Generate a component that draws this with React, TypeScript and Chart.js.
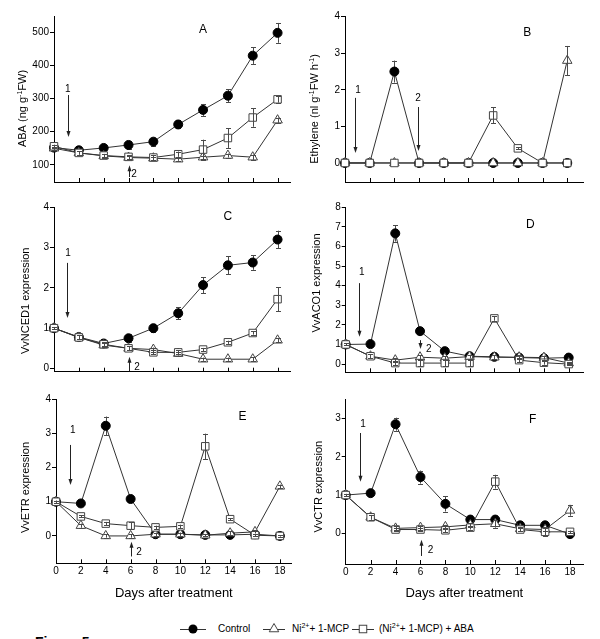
import React, { useEffect, useRef } from 'react';
import { Chart, registerables } from 'chart.js';

Chart.register(...registerables);

const FONT = '"Liberation Sans", Arial, Helvetica, sans-serif';

// ---------------- data ----------------
const days = [0, 2, 4, 6, 8, 10, 12, 14, 16, 18];
const xTickValues = [0, 2, 4, 6, 8, 10, 12, 14, 16, 18];
const seriesNames = ['Control', 'Ni2+ + 1-MCP', '(Ni2+ + 1-MCP) + ABA'];

// A: ABA content
const abaTicks = [100, 200, 300, 400, 500];
const abaControl = [152, 144, 151, 160, 170, 222, 266, 309, 430, 499];
const abaControlErr = [5, 5, 6, 12, 12, 12, 18, 20, 25, 30];
const abaNiMcp = [150, 136, 127, 122, 120, 117, 123, 128, 123, 235];
const abaNiMcpErr = [5, 5, 5, 5, 5, 5, 5, 6, 8, 8];
const abaNiMcpAba = [156, 136, 128, 124, 122, 132, 146, 181, 243, 298];
const abaNiMcpAbaErr = [5, 5, 5, 5, 8, 8, 30, 30, 28, 10];

// B: ethylene
const ethTicks = [0, 1, 2, 3, 4];
const ethControl = [0, 0, 2.5, 0, 0, 0, 0, 0, 0, 0];
const ethControlErr = [0, 0, 0.3, 0, 0, 0, 0, 0, 0, 0];
const ethNiMcp = [0, 0, 0, 0, 0, 0, 0, 0, 0, 2.8];
const ethNiMcpErr = [0, 0, 0, 0, 0, 0, 0, 0, 0, 0.4];
const ethNiMcpAba = [0, 0, 0, 0, 0, 0, 1.3, 0.4, 0, 0];
const ethNiMcpAbaErr = [0, 0, 0, 0, 0, 0, 0.22, 0.03, 0, 0];

// C: VvNCED1
const nced1Ticks = [0, 1, 2, 3, 4];
const nced1Control = [1.0, 0.78, 0.62, 0.75, 1.0, 1.37, 2.07, 2.56, 2.63, 3.2];
const nced1ControlErr = [0.03, 0.05, 0.05, 0.1, 0.1, 0.15, 0.2, 0.22, 0.18, 0.22];
const nced1NiMcp = [1.0, 0.77, 0.58, 0.5, 0.47, 0.37, 0.23, 0.23, 0.23, 0.7];
const nced1NiMcpErr = [0.03, 0.05, 0.05, 0.05, 0.05, 0.05, 0.04, 0.04, 0.05, 0.05];
const nced1NiMcpAba = [1.0, 0.77, 0.6, 0.5, 0.4, 0.4, 0.47, 0.65, 0.88, 1.72];
const nced1NiMcpAbaErr = [0.03, 0.05, 0.05, 0.05, 0.05, 0.05, 0.04, 0.04, 0.04, 0.3];

// D: VvACO1
const aco1Ticks = [0, 1, 2, 3, 4, 5, 6, 7, 8];
const aco1Control = [1.0, 1.02, 6.67, 1.68, 0.66, 0.4, 0.37, 0.33, 0.3, 0.33];
const aco1ControlErr = [0.05, 0.05, 0.42, 0.1, 0.05, 0.05, 0.05, 0.05, 0.05, 0.05];
const aco1NiMcp = [1.0, 0.4, 0.2, 0.35, 0.3, 0.38, 0.35, 0.35, 0.33, 0.05];
const aco1NiMcpErr = [0.05, 0.1, 0.1, 0.1, 0.1, 0.1, 0.1, 0.1, 0.1, 0.05];
const aco1NiMcpAba = [1.0, 0.4, 0.05, 0.05, 0.05, 0.05, 2.33, 0.2, 0.07, 0.0];
const aco1NiMcpAbaErr = [0.05, 0.1, 0.1, 0.15, 0.15, 0.15, 0.12, 0.1, 0.1, 0.03];

// E: VvETR
const etrTicks = [0, 1, 2, 3, 4];
const etrControl = [1.0, 0.95, 3.22, 1.08, 0.05, 0.05, 0.03, 0.03, 0.05, 0.0];
const etrControlErr = [0.03, 0.03, 0.27, 0.05, 0.03, 0.03, 0.03, 0.03, 0.03, 0.03];
const etrNiMcp = [1.0, 0.3, 0.0, 0.0, 0.05, 0.05, 0.02, 0.08, 0.12, 1.45];
const etrNiMcpErr = [0.03, 0.06, 0.05, 0.05, 0.05, 0.05, 0.03, 0.05, 0.05, 0.05];
const etrNiMcpAba = [1.0, 0.57, 0.36, 0.3, 0.25, 0.28, 2.62, 0.49, 0.02, 0.0];
const etrNiMcpAbaErr = [0.03, 0.03, 0.05, 0.1, 0.05, 0.05, 0.37, 0.03, 0.03, 0.02];

// F: VvCTR
const ctrTicks = [0, 1, 2, 3];
const ctrControl = [1.0, 1.05, 2.85, 1.47, 0.77, 0.36, 0.36, 0.21, 0.21, -0.02];
const ctrControlErr = [0.03, 0.05, 0.17, 0.17, 0.2, 0.05, 0.05, 0.03, 0.03, 0.03];
const ctrNiMcp = [1.0, 0.42, 0.13, 0.15, 0.17, 0.22, 0.25, 0.12, 0.1, 0.6];
const ctrNiMcpErr = [0.03, 0.06, 0.05, 0.05, 0.05, 0.05, 0.1, 0.05, 0.05, 0.14];
const ctrNiMcpAba = [1.0, 0.42, 0.1, 0.1, 0.08, 0.15, 1.35, 0.1, 0.04, 0.04];
const ctrNiMcpAbaErr = [0.03, 0.06, 0.05, 0.05, 0.05, 0.05, 0.18, 0.05, 0.12, 0.03];

// ---------------- layout / styles ----------------
type Seg = { t: string; sup?: boolean };
type Arrow = { x: number; from: number; to: number; label: string; lx: number; ly: number };

interface PanelCfg {
  id: string;
  box: { left: number; top: number; width: number; height: number };
  pad: { top: number; right: number; bottom: number };
  yWidth: number;
  xHeight: number;
  xMax: number;
  yMin: number;
  yMax: number;
  yTicks: number[];
  showX: boolean;
  values: number[][];
  errors: number[][];
  yTitle: Seg[];
  yTitlePos: { x: number; y: number };
  letter: { text: string; x: number; y: number };
  arrows: Arrow[];
}

const LINE_COLOR = '#333';
const MARKER_EDGE = '#444';
const ERR_COLOR = '#4a4a4a';

const seriesStyles = [
  { pointStyle: 'circle', pointRadius: 4.5, bg: '#000', edge: '#000', order: 3 },
  { pointStyle: 'triangle', pointRadius: 5.5, bg: '#fff', edge: MARKER_EDGE, order: 2 },
  { pointStyle: 'rect', pointRadius: 5.3, bg: '#fff', edge: MARKER_EDGE, order: 1 },
];

const panels: PanelCfg[] = [
  {
    id: 'A',
    box: { left: 0, top: 0, width: 300, height: 200 },
    pad: { top: 16, right: 10, bottom: 18 },
    yWidth: 54, xHeight: 0, xMax: 19, yMin: 48, yMax: 550, yTicks: abaTicks, showX: false,
    values: [abaControl, abaNiMcp, abaNiMcpAba],
    errors: [abaControlErr, abaNiMcpErr, abaNiMcpAbaErr],
    yTitle: [{ t: 'ABA (ng g' }, { t: '-1', sup: true }, { t: 'FW)' }],
    yTitlePos: { x: 26.2, y: 108.5 },
    letter: { text: 'A', x: 12.0, y: 510 },
    arrows: [
      { x: 1.1, from: 311, to: 184, label: '1', lx: 1.1, ly: 329 },
      { x: 6.04, from: 63, to: 99, label: '2', lx: 6.44, ly: 72 },
    ],
  },
  {
    id: 'B',
    box: { left: 300, top: 0, width: 300, height: 200 },
    pad: { top: 16.7, right: 16.7, bottom: 18 },
    yWidth: 45, xHeight: 0, xMax: 19.3, yMin: -0.52, yMax: 4, yTicks: ethTicks, showX: false,
    values: [ethControl, ethNiMcp, ethNiMcpAba],
    errors: [ethControlErr, ethNiMcpErr, ethNiMcpAbaErr],
    yTitle: [{ t: 'Ethylene (nl g' }, { t: '-1', sup: true }, { t: 'FW h' }, { t: '-1', sup: true }, { t: ')' }],
    yTitlePos: { x: 18, y: 109 },
    letter: { text: 'B', x: 14.76, y: 3.55 },
    arrows: [
      { x: 0.81, from: 1.78, to: 0.27, label: '1', lx: 1.05, ly: 2.0 },
      { x: 5.9, from: 1.53, to: 0.33, label: '2', lx: 5.92, ly: 1.78 },
    ],
  },
  {
    id: 'C',
    box: { left: 0, top: 200, width: 300, height: 200 },
    pad: { top: 7.3, right: 10, bottom: 28.3 },
    yWidth: 54, xHeight: 0, xMax: 19, yMin: -0.08, yMax: 4, yTicks: nced1Ticks, showX: false,
    values: [nced1Control, nced1NiMcp, nced1NiMcpAba],
    errors: [nced1ControlErr, nced1NiMcpErr, nced1NiMcpAbaErr],
    yTitle: [{ t: 'VvNCED1 expression' }],
    yTitlePos: { x: 29.3, y: 100.8 },
    letter: { text: 'C', x: 14.0, y: 3.76 },
    arrows: [
      { x: 1.02, from: 2.62, to: 1.25, label: '1', lx: 1.13, ly: 2.87 },
      { x: 6.04, from: -0.07, to: 0.29, label: '2', lx: 6.68, ly: 0.04 },
    ],
  },
  {
    id: 'D',
    box: { left: 300, top: 200, width: 300, height: 200 },
    pad: { top: 7.3, right: 16.7, bottom: 27.7 },
    yWidth: 45.7, xHeight: 0, xMax: 19.18, yMin: -0.42, yMax: 8, yTicks: aco1Ticks, showX: false,
    values: [aco1Control, aco1NiMcp, aco1NiMcpAba],
    errors: [aco1ControlErr, aco1NiMcpErr, aco1NiMcpAbaErr],
    yTitle: [{ t: 'VvACO1 expression' }],
    yTitlePos: { x: 19.5, y: 83 },
    letter: { text: 'D', x: 14.9, y: 7.1 },
    arrows: [
      { x: 1.1, from: 4.13, to: 1.39, label: '1', lx: 1.29, ly: 4.71 },
      { x: 6.0, from: 1.22, to: 0.77, label: '2', lx: 6.7, ly: 0.77 },
    ],
  },
  {
    id: 'E',
    box: { left: 0, top: 390, width: 300, height: 220 },
    pad: { top: 9.1, right: 8.3, bottom: 8.6 },
    yWidth: 56, xHeight: 38.1, xMax: 18.95, yMin: -0.8, yMax: 4, yTicks: etrTicks, showX: true,
    values: [etrControl, etrNiMcp, etrNiMcpAba],
    errors: [etrControlErr, etrNiMcpErr, etrNiMcpAbaErr],
    yTitle: [{ t: 'VvETR expression' }],
    yTitlePos: { x: 28.5, y: 97.5 },
    letter: { text: 'E', x: 15.0, y: 3.48 },
    arrows: [
      { x: 1.13, from: 2.66, to: 1.49, label: '1', lx: 1.34, ly: 3.08 },
      { x: 6.0, from: -0.6, to: -0.17, label: '2', lx: 6.67, ly: -0.47 },
    ],
  },
  {
    id: 'F',
    box: { left: 300, top: 390, width: 300, height: 220 },
    pad: { top: 9.3, right: 17, bottom: 8.6 },
    yWidth: 45.7, xHeight: 37.4, xMax: 19.04, yMin: -0.8, yMax: 3.5, yTicks: ctrTicks, showX: true,
    values: [ctrControl, ctrNiMcp, ctrNiMcpAba],
    errors: [ctrControlErr, ctrNiMcpErr, ctrNiMcpAbaErr],
    yTitle: [{ t: 'VvCTR expression' }],
    yTitlePos: { x: 21.7, y: 96.7 },
    letter: { text: 'F', x: 15.0, y: 2.96 },
    arrows: [
      { x: 1.17, from: 2.62, to: 1.35, label: '1', lx: 1.39, ly: 2.85 },
      { x: 6.02, from: -0.59, to: -0.17, label: '2', lx: 6.8, ly: -0.45 },
    ],
  },
];

// ---------------- drawing helpers ----------------
function drawErrorBars(chart: any, cfg: PanelCfg, which: (i: number) => boolean) {
  const { ctx, scales } = chart;
  const ys = scales.y;
  ctx.save();
  ctx.strokeStyle = ERR_COLOR;
  ctx.lineWidth = 1;
  cfg.errors.forEach((errs, di) => {
    if (!which(di)) return;
    const meta = chart.getDatasetMeta(di);
    errs.forEach((e, j) => {
      if (!e) return;
      const pt = meta.data[j];
      if (!pt) return;
      const x = Math.round(pt.x) + 0.5;
      const v = cfg.values[di][j];
      const yt = ys.getPixelForValue(v + e);
      const yb = ys.getPixelForValue(v - e);
      ctx.beginPath();
      ctx.moveTo(x, yt);
      ctx.lineTo(x, yb);
      ctx.moveTo(x - 2.5, Math.round(yt) + 0.5);
      ctx.lineTo(x + 2.5, Math.round(yt) + 0.5);
      ctx.moveTo(x - 2.5, Math.round(yb) + 0.5);
      ctx.lineTo(x + 2.5, Math.round(yb) + 0.5);
      ctx.stroke();
    });
  });
  ctx.restore();
}

function drawRichVertical(ctx: CanvasRenderingContext2D, segs: Seg[], bx: number, cy: number, size: number) {
  const mainFont = `${size}px ${FONT}`;
  const supFont = `${Math.round(size * 0.68)}px ${FONT}`;
  ctx.save();
  ctx.translate(bx, cy);
  ctx.rotate(-Math.PI / 2);
  ctx.textAlign = 'left';
  ctx.textBaseline = 'alphabetic';
  ctx.fillStyle = '#000';
  let total = 0;
  const widths = segs.map((s) => {
    ctx.font = s.sup ? supFont : mainFont;
    const w = ctx.measureText(s.t).width;
    total += w;
    return w;
  });
  let x = -total / 2;
  segs.forEach((s, i) => {
    ctx.font = s.sup ? supFont : mainFont;
    ctx.fillText(s.t, x, s.sup ? -size * 0.38 : 0);
    x += widths[i];
  });
  ctx.restore();
}

function makeConfig(cfg: PanelCfg): any {
  const datasets = cfg.values.map((vals, i) => {
    const st = seriesStyles[i];
    return {
      label: seriesNames[i],
      data: days.map((d, k) => ({ x: d, y: vals[k] })),
      borderColor: LINE_COLOR,
      borderWidth: 1,
      backgroundColor: st.bg,
      pointStyle: st.pointStyle,
      pointRadius: st.pointRadius,
      pointHoverRadius: st.pointRadius,
      pointBackgroundColor: st.bg,
      pointBorderColor: st.edge,
      pointBorderWidth: 1,
      tension: 0,
      fill: false,
      clip: false,
      order: st.order,
    };
  });

  const overlay = {
    id: 'overlay' + cfg.id,
    beforeDatasetsDraw(chart: any) {
      drawErrorBars(chart, cfg, (i) => i === 0);
    },
    afterDatasetsDraw(chart: any) {
      drawErrorBars(chart, cfg, (i) => i !== 0);
    },
    afterDraw(chart: any) {
      const { ctx, scales, chartArea } = chart;
      const xs = scales.x;
      const ys = scales.y;
      ctx.save();
      // inward x tick marks
      ctx.strokeStyle = '#000';
      ctx.lineWidth = 1;
      ctx.beginPath();
      xTickValues.forEach((v) => {
        if (v === 0) return;
        const px = Math.round(xs.getPixelForValue(v)) + 0.5;
        ctx.moveTo(px, chartArea.bottom);
        ctx.lineTo(px, chartArea.bottom - 4);
      });
      ctx.stroke();
      // panel letter
      ctx.fillStyle = '#000';
      ctx.textAlign = 'center';
      ctx.textBaseline = 'middle';
      ctx.font = `12px ${FONT}`;
      ctx.fillText(cfg.letter.text, xs.getPixelForValue(cfg.letter.x), ys.getPixelForValue(cfg.letter.y));
      // arrows
      cfg.arrows.forEach((a) => {
        const px = Math.round(xs.getPixelForValue(a.x)) + 0.5;
        const y1 = ys.getPixelForValue(a.from);
        const y2 = ys.getPixelForValue(a.to);
        const dir = Math.sign(y2 - y1);
        ctx.strokeStyle = '#222';
        ctx.fillStyle = '#222';
        ctx.beginPath();
        ctx.moveTo(px, y1);
        ctx.lineTo(px, y2 - dir * 4);
        ctx.stroke();
        ctx.beginPath();
        ctx.moveTo(px, y2);
        ctx.lineTo(px - 2, y2 - dir * 6);
        ctx.lineTo(px + 2, y2 - dir * 6);
        ctx.closePath();
        ctx.fill();
        ctx.fillStyle = '#000';
        ctx.font = `10px ${FONT}`;
        ctx.fillText(a.label, xs.getPixelForValue(a.lx), ys.getPixelForValue(a.ly));
      });
      ctx.restore();
      drawRichVertical(ctx, cfg.yTitle, cfg.yTitlePos.x, cfg.yTitlePos.y, 11);
    },
  };

  return {
    type: 'line',
    data: { datasets },
    plugins: [overlay],
    options: {
      responsive: false,
      animation: false,
      devicePixelRatio: 1,
      layout: { padding: { left: 0, top: cfg.pad.top, right: cfg.pad.right, bottom: cfg.pad.bottom } },
      plugins: { legend: { display: false }, tooltip: { enabled: false }, title: { display: false } },
      events: [],
      scales: {
        x: {
          type: 'linear',
          min: 0,
          max: cfg.xMax,
          afterBuildTicks: (s: any) => {
            s.ticks = xTickValues.map((v) => ({ value: v }));
          },
          afterFit: (s: any) => {
            s.height = cfg.xHeight;
          },
          grid: { display: false, drawTicks: false },
          border: { display: true, color: '#000', width: 1 },
          ticks: {
            display: cfg.showX,
            font: { family: FONT, size: 10 },
            color: '#000',
            padding: 2,
            maxRotation: 0,
            autoSkip: false,
          },
          title: {
            display: cfg.showX,
            text: 'Days after treatment',
            font: { family: FONT, size: 13 },
            color: '#000',
            padding: { top: 0, bottom: 0 },
          },
        },
        y: {
          type: 'linear',
          min: cfg.yMin,
          max: cfg.yMax,
          afterBuildTicks: (s: any) => {
            s.ticks = cfg.yTicks.map((v) => ({ value: v }));
          },
          afterFit: (s: any) => {
            s.width = cfg.yWidth;
          },
          grid: { display: true, drawOnChartArea: false, drawTicks: true, tickLength: 4, color: '#000', lineWidth: 1 },
          border: { display: true, color: '#000', width: 1 },
          ticks: { font: { family: FONT, size: 10 }, color: '#000', padding: 1, autoSkip: false },
          title: { display: false },
        },
      },
    },
  };
}

function PanelChart({ cfg }: { cfg: PanelCfg }) {
  const ref = useRef<HTMLCanvasElement>(null);
  useEffect(() => {
    if (!ref.current) return;
    const chart = new Chart(ref.current, makeConfig(cfg));
    return () => chart.destroy();
  }, [cfg]);
  return (
    <canvas
      ref={ref}
      width={cfg.box.width}
      height={cfg.box.height}
      style={{
        position: 'absolute',
        left: cfg.box.left,
        top: cfg.box.top,
        width: cfg.box.width,
        height: cfg.box.height,
      }}
    />
  );
}

const legendText: React.CSSProperties = {
  position: 'absolute',
  fontSize: 10,
  lineHeight: '12px',
  color: '#000',
  whiteSpace: 'nowrap',
};
const supStyle: React.CSSProperties = { fontSize: 7, position: 'relative', top: -4, lineHeight: 0 };

function LegendMarker({ kind, left, width }: { kind: number; left: number; width: number }) {
  const cy = 6;
  const cx = width / 2;
  let marker: React.ReactNode = null;
  if (kind === 0) marker = <circle cx={cx} cy={cy} r={4.5} fill="#000" />;
  if (kind === 1) {
    const r = 5.5;
    const pts = [
      [cx, cy - r],
      [cx + r * Math.sin((2 * Math.PI) / 3), cy - r * Math.cos((2 * Math.PI) / 3)],
      [cx + r * Math.sin((4 * Math.PI) / 3), cy - r * Math.cos((4 * Math.PI) / 3)],
    ]
      .map((p) => p.join(','))
      .join(' ');
    marker = <polygon points={pts} fill="#fff" stroke={MARKER_EDGE} strokeWidth={1} />;
  }
  if (kind === 2) {
    const h = 5.3 * Math.SQRT1_2;
    marker = <rect x={cx - h} y={cy - h} width={2 * h} height={2 * h} fill="#fff" stroke={MARKER_EDGE} strokeWidth={1} />;
  }
  return (
    <svg width={width} height={12} style={{ position: 'absolute', left, top: 623 }}>
      <line x1={0} y1={cy + 0.5} x2={width} y2={cy + 0.5} stroke={LINE_COLOR} strokeWidth={1} />
      {marker}
    </svg>
  );
}

export default function App() {
  return (
    <div
      style={{
        position: 'absolute',
        left: 0,
        top: 0,
        width: 600,
        height: 639,
        overflow: 'hidden',
        background: '#fff',
        fontFamily: FONT,
      }}
    >
      {panels.map((p) => (
        <PanelChart key={p.id} cfg={p} />
      ))}
      <LegendMarker kind={0} left={180} width={26} />
      <div style={{ ...legendText, left: 218, top: 623 }}>Control</div>
      <LegendMarker kind={1} left={263} width={22} />
      <div style={{ ...legendText, left: 292, top: 623 }}>
        Ni<span style={supStyle}>2+</span>+ 1-MCP
      </div>
      <LegendMarker kind={2} left={352} width={22} />
      <div style={{ ...legendText, left: 379, top: 623 }}>
        (Ni<span style={supStyle}>2+</span>+ 1-MCP) + ABA
      </div>
      <div
        style={{
          position: 'absolute',
          left: 35,
          top: 634,
          fontSize: 14,
          lineHeight: '16px',
          fontWeight: 'bold',
          whiteSpace: 'nowrap',
          color: '#000',
        }}
      >
        Figure 5
      </div>
    </div>
  );
}
